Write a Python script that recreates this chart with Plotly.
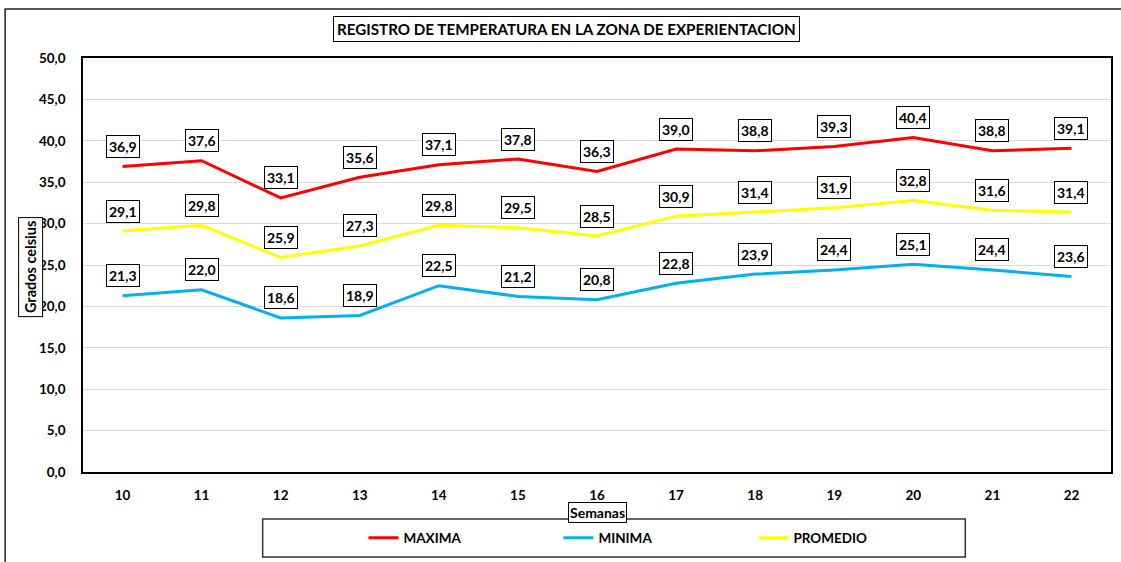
import plotly.graph_objects as go

semanas = ["10", "11", "12", "13", "14", "15", "16", "17", "18", "19", "20", "21", "22"]
maxima = [36.9, 37.6, 33.1, 35.6, 37.1, 37.8, 36.3, 39.0, 38.8, 39.3, 40.4, 38.8, 39.1]
minima = [21.3, 22.0, 18.6, 18.9, 22.5, 21.2, 20.8, 22.8, 23.9, 24.4, 25.1, 24.4, 23.6]
promedio = [29.1, 29.8, 25.9, 27.3, 29.8, 29.5, 28.5, 30.9, 31.4, 31.9, 32.8, 31.6, 31.4]
y_ticks = [0, 5, 10, 15, 20, 25, 30, 35, 40, 45, 50]

W, H = 1121, 562
L, R, T, B = 83, 1113, 58, 472
FONT = "Lato, 'Open Sans', sans-serif"

def px_x(p):
    return (p - L) / (R - L)

def px_y(p):
    return (B - p) / (B - T)

series = [
    ("MAXIMA", maxima, "#FF0000"),
    ("MINIMA", minima, "#00B0F0"),
    ("PROMEDIO", promedio, "#FFFF00"),
]

fig = go.Figure()
for name, vals, col in series:
    fig.add_trace(go.Scatter(x=semanas, y=vals, mode="lines", name=name,
                             line=dict(color=col, width=3), hoverinfo="x+y"))

annotations = []
for name, vals, col in series:
    for i, v in enumerate(vals):
        annotations.append(dict(
            x=i, y=v, xref="x", yref="y", text=f"{v:.1f}".replace(".", ","),
            showarrow=False, yshift=20, bgcolor="white", bordercolor="black",
            borderwidth=1, borderpad=2,
            font=dict(family=FONT, size=14, color="black", weight="bold")))

annotations.append(dict(
    x=px_x(567), y=px_y(29), xref="paper", yref="paper", xanchor="center", yanchor="middle",
    text="REGISTRO DE TEMPERATURA EN LA ZONA DE EXPERIENTACION",
    showarrow=False, bgcolor="white", bordercolor="black", borderwidth=1, borderpad=3,
    font=dict(family=FONT, size=15.2, color="black", weight="bold")))
annotations.append(dict(
    x=px_x(598), y=px_y(512), xref="paper", yref="paper", xanchor="center", yanchor="middle",
    text="Semanas",
    showarrow=False, bgcolor="white", bordercolor="black", borderwidth=1, borderpad=1,
    font=dict(family=FONT, size=14, color="black", weight="bold")))
annotations.append(dict(
    x=px_x(30), y=px_y(267), xref="paper", yref="paper", xanchor="center", yanchor="middle",
    text="Grados celsius",
    textangle=-90, showarrow=False, bgcolor="white", bordercolor="black",
    borderwidth=1, borderpad=3,
    font=dict(family=FONT, size=14.5, color="black", weight="bold")))

shapes = [
    dict(type="rect", xref="paper", yref="paper", x0=px_x(5), x1=px_x(1130),
         y0=px_y(575), y1=px_y(9), line=dict(color="#222222", width=1.5),
         fillcolor="rgba(0,0,0,0)", layer="below"),
    dict(type="rect", xref="paper", yref="paper", x0=px_x(263), x1=px_x(967),
         y0=px_y(557), y1=px_y(519), line=dict(color="#333333", width=1.5),
         fillcolor="white", layer="below"),
]

fig.update_layout(
    width=W, height=H,
    margin=dict(l=L, r=W - R, t=T, b=H - B, pad=0),
    paper_bgcolor="white", plot_bgcolor="white",
    separators=",.",
    showlegend=True,
    legend=dict(orientation="h", x=px_x(364), xanchor="left",
                y=px_y(538), yanchor="middle", bgcolor="rgba(0,0,0,0)",
                entrywidth=150, entrywidthmode="pixels",
                font=dict(family=FONT, size=13.5, color="black", weight="bold")),
    annotations=annotations,
    shapes=shapes,
    font=dict(family=FONT, color="black"),
)
fig.update_xaxes(type="category", range=[-0.5, 12.5], showline=True, linecolor="black",
                 linewidth=1.5, mirror=True, showgrid=False, ticks="", ticklabelstandoff=10,
                 tickfont=dict(family=FONT, size=13.5, color="black", weight="bold"))
fig.update_yaxes(range=[0, 50], tickvals=y_ticks, tickformat=".1f", showline=True,
                 linecolor="black", linewidth=1.5, mirror=True, showgrid=True,
                 gridcolor="#D9D9D9", gridwidth=1, zeroline=False, ticks="",
                 ticklabelstandoff=13,
                 tickfont=dict(family=FONT, size=13.5, color="black", weight="bold"))

fig.write_html("out.html", config={"displayModeBar": False},
               post_script="document.body.style.margin='0';document.body.style.overflow='hidden';")
